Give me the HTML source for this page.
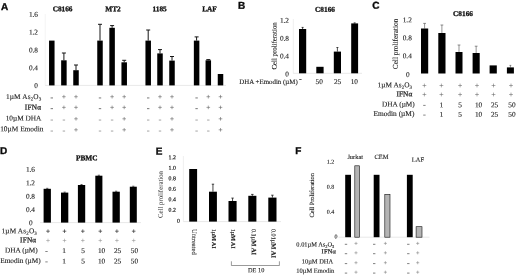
<!DOCTYPE html>
<html><head><meta charset="utf-8"><title>figure</title>
<style>
html,body{margin:0;padding:0;background:#fff;}
body{width:520px;height:275px;overflow:hidden;font-family:"Liberation Serif",serif;}
svg{display:block;text-rendering:geometricPrecision;}
</style></head><body>
<svg width="520" height="275" viewBox="0 0 520 275">
<rect width="520" height="275" fill="#fff"/>
<g style="filter:blur(0.3px)">
<text x="1.00" y="10.08" transform="rotate(0.03 1.00 10.08)" text-anchor="start" font-size="10" font-weight="bold" font-family='"Liberation Sans", sans-serif' fill="#0a0a0a" stroke="#0a0a0a" stroke-width="0.35" >A</text>
<text x="62.60" y="11.22" transform="rotate(0.03 62.60 11.22)" text-anchor="middle" font-size="7.3" font-weight="bold" font-family='"Liberation Serif", serif' fill="#111" stroke="#111" stroke-width="0.3" >C8166</text>
<text x="113.00" y="11.22" transform="rotate(0.03 113.00 11.22)" text-anchor="middle" font-size="7.3" font-weight="bold" font-family='"Liberation Serif", serif' fill="#111" stroke="#111" stroke-width="0.3" >MT2</text>
<text x="159.60" y="11.22" transform="rotate(0.03 159.60 11.22)" text-anchor="middle" font-size="7.3" font-weight="bold" font-family='"Liberation Serif", serif' fill="#111" stroke="#111" stroke-width="0.3" >1185</text>
<text x="209.50" y="11.22" transform="rotate(0.03 209.50 11.22)" text-anchor="middle" font-size="7.3" font-weight="bold" font-family='"Liberation Serif", serif' fill="#111" stroke="#111" stroke-width="0.3" >LAF</text>
<text x="38.00" y="87.92" transform="rotate(0.03 38.00 87.92)" text-anchor="end" font-size="7.3" font-weight="normal" font-family='"Liberation Serif", serif' fill="#1c1c1c" stroke="#1c1c1c" stroke-width="0.12" >0</text>
<text x="38.00" y="70.16" transform="rotate(0.03 38.00 70.16)" text-anchor="end" font-size="7.3" font-weight="normal" font-family='"Liberation Serif", serif' fill="#1c1c1c" stroke="#1c1c1c" stroke-width="0.12" >0.4</text>
<text x="38.00" y="52.40" transform="rotate(0.03 38.00 52.40)" text-anchor="end" font-size="7.3" font-weight="normal" font-family='"Liberation Serif", serif' fill="#1c1c1c" stroke="#1c1c1c" stroke-width="0.12" >0.8</text>
<text x="38.00" y="34.64" transform="rotate(0.03 38.00 34.64)" text-anchor="end" font-size="7.3" font-weight="normal" font-family='"Liberation Serif", serif' fill="#1c1c1c" stroke="#1c1c1c" stroke-width="0.12" >1.2</text>
<text x="38.00" y="16.88" transform="rotate(0.03 38.00 16.88)" text-anchor="end" font-size="7.3" font-weight="normal" font-family='"Liberation Serif", serif' fill="#1c1c1c" stroke="#1c1c1c" stroke-width="0.12" >1.6</text>
<line x1="45.20" y1="14.00" x2="45.20" y2="85.40" stroke="#ececec" stroke-width="0.6"/>
<line x1="45.20" y1="85.40" x2="226.00" y2="85.40" stroke="#d8d8d8" stroke-width="0.6"/>
<rect x="49.05" y="40.60" width="5.50" height="44.80" fill="#000"/>
<path d="M63.90 60.30V53.00M61.90 53.00H65.90" stroke="#161616" stroke-width="1.0" fill="none"/>
<rect x="61.15" y="60.30" width="5.50" height="25.10" fill="#000"/>
<path d="M76.00 70.20V65.00M74.00 65.00H78.00" stroke="#161616" stroke-width="1.0" fill="none"/>
<rect x="73.25" y="70.20" width="5.50" height="15.20" fill="#000"/>
<path d="M100.00 40.60V24.30M98.00 24.30H102.00" stroke="#161616" stroke-width="1.0" fill="none"/>
<rect x="97.25" y="40.60" width="5.50" height="44.80" fill="#000"/>
<path d="M112.10 27.80V25.60M110.10 25.60H114.10" stroke="#161616" stroke-width="1.0" fill="none"/>
<rect x="109.35" y="27.80" width="5.50" height="57.60" fill="#000"/>
<path d="M124.20 62.30V60.30M122.20 60.30H126.20" stroke="#161616" stroke-width="1.0" fill="none"/>
<rect x="121.45" y="62.30" width="5.50" height="23.10" fill="#000"/>
<path d="M148.20 40.60V30.00M146.20 30.00H150.20" stroke="#161616" stroke-width="1.0" fill="none"/>
<rect x="145.45" y="40.60" width="5.50" height="44.80" fill="#000"/>
<path d="M160.00 53.40V49.60M158.00 49.60H162.00" stroke="#161616" stroke-width="1.0" fill="none"/>
<rect x="157.25" y="53.40" width="5.50" height="32.00" fill="#000"/>
<path d="M172.00 60.60V56.50M170.00 56.50H174.00" stroke="#161616" stroke-width="1.0" fill="none"/>
<rect x="169.25" y="60.60" width="5.50" height="24.80" fill="#000"/>
<path d="M196.60 40.60V36.90M194.60 36.90H198.60" stroke="#161616" stroke-width="1.0" fill="none"/>
<rect x="193.85" y="40.60" width="5.50" height="44.80" fill="#000"/>
<path d="M208.30 60.30V59.60M206.30 59.60H210.30" stroke="#161616" stroke-width="1.0" fill="none"/>
<rect x="205.55" y="60.30" width="5.50" height="25.10" fill="#000"/>
<rect x="217.75" y="74.00" width="5.50" height="11.40" fill="#000"/>
<text x="41.40" y="99.12" transform="rotate(0.03 41.40 99.12)" text-anchor="end" font-size="7.3" font-weight="normal" font-family='"Liberation Serif", serif' fill="#1c1c1c" stroke="#1c1c1c" stroke-width="0.12" letter-spacing="0.15">1µM As<tspan font-size="5.0" dy="1.5">2</tspan><tspan dy="-1.5">O</tspan><tspan font-size="5.0" dy="1.5">3</tspan></text>
<text x="41.30" y="109.42" transform="rotate(0.03 41.30 109.42)" text-anchor="end" font-size="7.3" font-weight="normal" font-family='"Liberation Serif", serif' fill="#1c1c1c" stroke="#1c1c1c" stroke-width="0.25" letter-spacing="0.25">IFNα</text>
<text x="41.30" y="120.42" transform="rotate(0.03 41.30 120.42)" text-anchor="end" font-size="7.3" font-weight="normal" font-family='"Liberation Serif", serif' fill="#1c1c1c" stroke="#1c1c1c" stroke-width="0.12" >10µM DHA</text>
<text x="43.40" y="131.33" transform="rotate(0.03 43.40 131.33)" text-anchor="end" font-size="7.35" font-weight="normal" font-family='"Liberation Serif", serif' fill="#1c1c1c" stroke="#1c1c1c" stroke-width="0.12" >10µM Emodin</text>
<path d="M50.60 97.95H53.00" stroke="#555" stroke-width="0.8" fill="none"/>
<path d="M62.10 96.70H65.70M63.90 94.90V98.50" stroke="#666" stroke-width="0.6" fill="none"/>
<path d="M74.20 96.70H77.80M76.00 94.90V98.50" stroke="#666" stroke-width="0.6" fill="none"/>
<path d="M98.80 97.95H101.20" stroke="#555" stroke-width="0.8" fill="none"/>
<path d="M110.30 96.70H113.90M112.10 94.90V98.50" stroke="#666" stroke-width="0.6" fill="none"/>
<path d="M122.40 96.70H126.00M124.20 94.90V98.50" stroke="#666" stroke-width="0.6" fill="none"/>
<path d="M147.00 97.95H149.40" stroke="#555" stroke-width="0.8" fill="none"/>
<path d="M158.20 96.70H161.80M160.00 94.90V98.50" stroke="#666" stroke-width="0.6" fill="none"/>
<path d="M170.20 96.70H173.80M172.00 94.90V98.50" stroke="#666" stroke-width="0.6" fill="none"/>
<path d="M195.40 97.95H197.80" stroke="#555" stroke-width="0.8" fill="none"/>
<path d="M206.50 96.70H210.10M208.30 94.90V98.50" stroke="#666" stroke-width="0.6" fill="none"/>
<path d="M218.70 96.70H222.30M220.50 94.90V98.50" stroke="#666" stroke-width="0.6" fill="none"/>
<path d="M50.60 108.65H53.00" stroke="#555" stroke-width="0.8" fill="none"/>
<path d="M62.10 107.40H65.70M63.90 105.60V109.20" stroke="#666" stroke-width="0.6" fill="none"/>
<path d="M74.20 107.40H77.80M76.00 105.60V109.20" stroke="#666" stroke-width="0.6" fill="none"/>
<path d="M98.80 108.65H101.20" stroke="#555" stroke-width="0.8" fill="none"/>
<path d="M110.30 107.40H113.90M112.10 105.60V109.20" stroke="#666" stroke-width="0.6" fill="none"/>
<path d="M122.40 107.40H126.00M124.20 105.60V109.20" stroke="#666" stroke-width="0.6" fill="none"/>
<path d="M147.00 108.65H149.40" stroke="#555" stroke-width="0.8" fill="none"/>
<path d="M158.20 107.40H161.80M160.00 105.60V109.20" stroke="#666" stroke-width="0.6" fill="none"/>
<path d="M170.20 107.40H173.80M172.00 105.60V109.20" stroke="#666" stroke-width="0.6" fill="none"/>
<path d="M195.40 108.65H197.80" stroke="#555" stroke-width="0.8" fill="none"/>
<path d="M206.50 107.40H210.10M208.30 105.60V109.20" stroke="#666" stroke-width="0.6" fill="none"/>
<path d="M218.70 107.40H222.30M220.50 105.60V109.20" stroke="#666" stroke-width="0.6" fill="none"/>
<path d="M50.60 120.05H53.00" stroke="#8c8c8c" stroke-width="0.8" fill="none"/>
<path d="M62.70 120.05H65.10" stroke="#8c8c8c" stroke-width="0.8" fill="none"/>
<path d="M74.20 118.80H77.80M76.00 117.00V120.60" stroke="#666" stroke-width="0.6" fill="none"/>
<path d="M98.80 120.05H101.20" stroke="#8c8c8c" stroke-width="0.8" fill="none"/>
<path d="M110.90 120.05H113.30" stroke="#8c8c8c" stroke-width="0.8" fill="none"/>
<path d="M122.40 118.80H126.00M124.20 117.00V120.60" stroke="#666" stroke-width="0.6" fill="none"/>
<path d="M147.00 120.05H149.40" stroke="#8c8c8c" stroke-width="0.8" fill="none"/>
<path d="M158.80 120.05H161.20" stroke="#8c8c8c" stroke-width="0.8" fill="none"/>
<path d="M170.20 118.80H173.80M172.00 117.00V120.60" stroke="#666" stroke-width="0.6" fill="none"/>
<path d="M195.40 120.05H197.80" stroke="#8c8c8c" stroke-width="0.8" fill="none"/>
<path d="M207.10 120.05H209.50" stroke="#8c8c8c" stroke-width="0.8" fill="none"/>
<path d="M218.70 118.80H222.30M220.50 117.00V120.60" stroke="#666" stroke-width="0.6" fill="none"/>
<path d="M50.60 131.05H53.00" stroke="#8c8c8c" stroke-width="0.8" fill="none"/>
<path d="M62.70 131.05H65.10" stroke="#8c8c8c" stroke-width="0.8" fill="none"/>
<path d="M74.20 129.80H77.80M76.00 128.00V131.60" stroke="#666" stroke-width="0.6" fill="none"/>
<path d="M98.80 131.05H101.20" stroke="#8c8c8c" stroke-width="0.8" fill="none"/>
<path d="M110.90 131.05H113.30" stroke="#8c8c8c" stroke-width="0.8" fill="none"/>
<path d="M122.40 129.80H126.00M124.20 128.00V131.60" stroke="#666" stroke-width="0.6" fill="none"/>
<path d="M147.00 131.05H149.40" stroke="#8c8c8c" stroke-width="0.8" fill="none"/>
<path d="M158.80 131.05H161.20" stroke="#8c8c8c" stroke-width="0.8" fill="none"/>
<path d="M170.20 129.80H173.80M172.00 128.00V131.60" stroke="#666" stroke-width="0.6" fill="none"/>
<path d="M195.40 131.05H197.80" stroke="#8c8c8c" stroke-width="0.8" fill="none"/>
<path d="M207.10 131.05H209.50" stroke="#8c8c8c" stroke-width="0.8" fill="none"/>
<path d="M218.70 129.80H222.30M220.50 128.00V131.60" stroke="#666" stroke-width="0.6" fill="none"/>
<text x="238.00" y="8.68" transform="rotate(0.03 238.00 8.68)" text-anchor="start" font-size="10" font-weight="bold" font-family='"Liberation Sans", sans-serif' fill="#0a0a0a" stroke="#0a0a0a" stroke-width="0.35" >B</text>
<text x="325.00" y="11.72" transform="rotate(0.03 325.00 11.72)" text-anchor="middle" font-size="7.3" font-weight="bold" font-family='"Liberation Serif", serif' fill="#111" stroke="#111" stroke-width="0.3" >C8166</text>
<text x="288.90" y="76.52" transform="rotate(0.03 288.90 76.52)" text-anchor="end" font-size="7.3" font-weight="normal" font-family='"Liberation Serif", serif' fill="#1c1c1c" stroke="#1c1c1c" stroke-width="0.12" >0</text>
<text x="289.00" y="58.60" transform="rotate(0.03 289.00 58.60)" text-anchor="end" font-size="7.3" font-weight="normal" font-family='"Liberation Serif", serif' fill="#1c1c1c" stroke="#1c1c1c" stroke-width="0.12" >0.4</text>
<text x="289.00" y="40.68" transform="rotate(0.03 289.00 40.68)" text-anchor="end" font-size="7.3" font-weight="normal" font-family='"Liberation Serif", serif' fill="#1c1c1c" stroke="#1c1c1c" stroke-width="0.12" >0.8</text>
<text x="289.00" y="22.76" transform="rotate(0.03 289.00 22.76)" text-anchor="end" font-size="7.3" font-weight="normal" font-family='"Liberation Serif", serif' fill="#1c1c1c" stroke="#1c1c1c" stroke-width="0.12" >1.2</text>
<line x1="293.30" y1="19.00" x2="293.30" y2="73.30" stroke="#e4e4e4" stroke-width="0.6"/>
<line x1="293.30" y1="73.30" x2="362.00" y2="73.30" stroke="#d8d8d8" stroke-width="0.6"/>
<text transform="translate(274.20,45.90) rotate(-89.97)" text-anchor="middle" font-size="6.85" font-weight="normal" font-family='"Liberation Serif", serif' fill="#1c1c1c" stroke="#1c1c1c" stroke-width="0.12" dy="2.27">Cell proliferation</text>
<path d="M302.60 29.00V27.40M301.60 27.40H303.60" stroke="#161616" stroke-width="0.75" fill="none"/>
<rect x="299.00" y="29.00" width="7.20" height="44.30" fill="#000"/>
<rect x="316.30" y="66.80" width="7.30" height="6.50" fill="#000"/>
<path d="M337.40 51.60V47.50M336.40 47.50H338.40" stroke="#161616" stroke-width="0.75" fill="none"/>
<rect x="333.80" y="51.60" width="7.20" height="21.70" fill="#000"/>
<path d="M354.65 23.40V22.90M353.65 22.90H355.65" stroke="#161616" stroke-width="0.75" fill="none"/>
<rect x="351.20" y="23.40" width="6.90" height="49.90" fill="#000"/>
<text x="297.70" y="84.08" transform="rotate(0.03 297.70 84.08)" text-anchor="end" font-size="6.9" font-weight="normal" font-family='"Liberation Serif", serif' fill="#1c1c1c" stroke="#1c1c1c" stroke-width="0.12" >DHA +Emodin (µM)</text>
<path d="M299.20 79.50H301.60" stroke="#333" stroke-width="0.8" fill="none"/>
<text x="319.20" y="84.02" transform="rotate(0.03 319.20 84.02)" text-anchor="middle" font-size="7.3" font-weight="normal" font-family='"Liberation Serif", serif' fill="#1c1c1c" stroke="#1c1c1c" stroke-width="0.12" >50</text>
<text x="337.60" y="84.02" transform="rotate(0.03 337.60 84.02)" text-anchor="middle" font-size="7.3" font-weight="normal" font-family='"Liberation Serif", serif' fill="#1c1c1c" stroke="#1c1c1c" stroke-width="0.12" >25</text>
<text x="354.30" y="84.02" transform="rotate(0.03 354.30 84.02)" text-anchor="middle" font-size="7.3" font-weight="normal" font-family='"Liberation Serif", serif' fill="#1c1c1c" stroke="#1c1c1c" stroke-width="0.12" >10</text>
<text x="372.30" y="8.68" transform="rotate(0.03 372.30 8.68)" text-anchor="start" font-size="10" font-weight="bold" font-family='"Liberation Sans", sans-serif' fill="#0a0a0a" stroke="#0a0a0a" stroke-width="0.35" >C</text>
<text x="463.00" y="16.12" transform="rotate(0.03 463.00 16.12)" text-anchor="middle" font-size="7.3" font-weight="bold" font-family='"Liberation Serif", serif' fill="#111" stroke="#111" stroke-width="0.3" >C8166</text>
<text x="411.80" y="58.26" transform="rotate(0.03 411.80 58.26)" text-anchor="end" font-size="7.3" font-weight="normal" font-family='"Liberation Serif", serif' fill="#1c1c1c" stroke="#1c1c1c" stroke-width="0.12" >0.4</text>
<text x="411.80" y="40.30" transform="rotate(0.03 411.80 40.30)" text-anchor="end" font-size="7.3" font-weight="normal" font-family='"Liberation Serif", serif' fill="#1c1c1c" stroke="#1c1c1c" stroke-width="0.12" >0.8</text>
<text x="411.80" y="22.34" transform="rotate(0.03 411.80 22.34)" text-anchor="end" font-size="7.3" font-weight="normal" font-family='"Liberation Serif", serif' fill="#1c1c1c" stroke="#1c1c1c" stroke-width="0.12" >1.2</text>
<text x="409.70" y="77.12" transform="rotate(0.03 409.70 77.12)" text-anchor="end" font-size="7.3" font-weight="normal" font-family='"Liberation Serif", serif' fill="#1c1c1c" stroke="#1c1c1c" stroke-width="0.12" >0</text>
<text transform="translate(395.30,44.00) rotate(-89.97)" text-anchor="middle" font-size="7.3" font-weight="normal" font-family='"Liberation Serif", serif' fill="#1c1c1c" stroke="#1c1c1c" stroke-width="0.12" dy="2.42">Cell proliferation</text>
<path d="M424.60 28.50V23.40M423.20 23.40H426.00" stroke="#4a4a4a" stroke-width="0.6" fill="none"/>
<rect x="421.00" y="28.50" width="7.20" height="45.00" fill="#000"/>
<path d="M441.90 33.00V25.00M440.50 25.00H443.30" stroke="#4a4a4a" stroke-width="0.6" fill="none"/>
<rect x="438.30" y="33.00" width="7.20" height="40.50" fill="#000"/>
<path d="M459.00 52.00V45.00M457.60 45.00H460.40" stroke="#4a4a4a" stroke-width="0.6" fill="none"/>
<rect x="455.50" y="52.00" width="7.00" height="21.50" fill="#000"/>
<path d="M476.15 53.00V46.20M474.75 46.20H477.55" stroke="#4a4a4a" stroke-width="0.6" fill="none"/>
<rect x="472.60" y="53.00" width="7.10" height="20.50" fill="#000"/>
<rect x="489.60" y="65.40" width="7.20" height="8.10" fill="#000"/>
<path d="M510.40 67.40V65.40M509.50 65.40H511.30" stroke="#4a4a4a" stroke-width="0.6" fill="none"/>
<rect x="506.90" y="67.40" width="7.00" height="6.10" fill="#000"/>
<text x="412.20" y="87.32" transform="rotate(0.03 412.20 87.32)" text-anchor="end" font-size="7.3" font-weight="normal" font-family='"Liberation Serif", serif' fill="#1c1c1c" stroke="#1c1c1c" stroke-width="0.12" letter-spacing="0.05">1µM As<tspan font-size="5.0" dy="1.5">2</tspan><tspan dy="-1.5">O</tspan><tspan font-size="5.0" dy="1.5">3</tspan></text>
<text x="412.40" y="96.22" transform="rotate(0.03 412.40 96.22)" text-anchor="end" font-size="7.3" font-weight="normal" font-family='"Liberation Serif", serif' fill="#1c1c1c" stroke="#1c1c1c" stroke-width="0.25" letter-spacing="0.1">IFNα</text>
<text x="414.80" y="106.42" transform="rotate(0.03 414.80 106.42)" text-anchor="end" font-size="7.3" font-weight="normal" font-family='"Liberation Serif", serif' fill="#1c1c1c" stroke="#1c1c1c" stroke-width="0.12" >DHA (µM)</text>
<text x="414.40" y="115.95" transform="rotate(0.03 414.40 115.95)" text-anchor="end" font-size="7.4" font-weight="normal" font-family='"Liberation Serif", serif' fill="#1c1c1c" stroke="#1c1c1c" stroke-width="0.12" >Emodin (µM)</text>
<path d="M422.50 85.50H426.30M424.40 83.60V87.40" stroke="#666" stroke-width="0.55" fill="none"/>
<path d="M422.50 94.50H426.30M424.40 92.60V96.40" stroke="#666" stroke-width="0.55" fill="none"/>
<path d="M423.20 105.40H425.60" stroke="#666" stroke-width="0.8" fill="none"/>
<path d="M423.20 115.10H425.60" stroke="#666" stroke-width="0.8" fill="none"/>
<path d="M439.50 85.50H443.30M441.40 83.60V87.40" stroke="#666" stroke-width="0.55" fill="none"/>
<path d="M439.50 94.50H443.30M441.40 92.60V96.40" stroke="#666" stroke-width="0.55" fill="none"/>
<text x="441.40" y="107.32" transform="rotate(0.03 441.40 107.32)" text-anchor="middle" font-size="7.3" font-weight="normal" font-family='"Liberation Serif", serif' fill="#1c1c1c" stroke="#1c1c1c" stroke-width="0.12" >1</text>
<text x="441.40" y="116.82" transform="rotate(0.03 441.40 116.82)" text-anchor="middle" font-size="7.3" font-weight="normal" font-family='"Liberation Serif", serif' fill="#1c1c1c" stroke="#1c1c1c" stroke-width="0.12" >1</text>
<path d="M458.20 85.50H462.00M460.10 83.60V87.40" stroke="#666" stroke-width="0.55" fill="none"/>
<path d="M458.20 94.50H462.00M460.10 92.60V96.40" stroke="#666" stroke-width="0.55" fill="none"/>
<text x="460.10" y="107.32" transform="rotate(0.03 460.10 107.32)" text-anchor="middle" font-size="7.3" font-weight="normal" font-family='"Liberation Serif", serif' fill="#1c1c1c" stroke="#1c1c1c" stroke-width="0.12" >5</text>
<text x="460.10" y="116.82" transform="rotate(0.03 460.10 116.82)" text-anchor="middle" font-size="7.3" font-weight="normal" font-family='"Liberation Serif", serif' fill="#1c1c1c" stroke="#1c1c1c" stroke-width="0.12" >5</text>
<path d="M475.10 85.50H478.90M477.00 83.60V87.40" stroke="#666" stroke-width="0.55" fill="none"/>
<path d="M475.10 94.50H478.90M477.00 92.60V96.40" stroke="#666" stroke-width="0.55" fill="none"/>
<text x="478.60" y="107.32" transform="rotate(0.03 478.60 107.32)" text-anchor="middle" font-size="7.3" font-weight="normal" font-family='"Liberation Serif", serif' fill="#1c1c1c" stroke="#1c1c1c" stroke-width="0.12" >10</text>
<text x="478.60" y="116.82" transform="rotate(0.03 478.60 116.82)" text-anchor="middle" font-size="7.3" font-weight="normal" font-family='"Liberation Serif", serif' fill="#1c1c1c" stroke="#1c1c1c" stroke-width="0.12" >10</text>
<path d="M491.60 85.50H495.40M493.50 83.60V87.40" stroke="#666" stroke-width="0.55" fill="none"/>
<path d="M491.60 94.50H495.40M493.50 92.60V96.40" stroke="#666" stroke-width="0.55" fill="none"/>
<text x="494.60" y="107.32" transform="rotate(0.03 494.60 107.32)" text-anchor="middle" font-size="7.3" font-weight="normal" font-family='"Liberation Serif", serif' fill="#1c1c1c" stroke="#1c1c1c" stroke-width="0.12" >25</text>
<text x="494.60" y="116.82" transform="rotate(0.03 494.60 116.82)" text-anchor="middle" font-size="7.3" font-weight="normal" font-family='"Liberation Serif", serif' fill="#1c1c1c" stroke="#1c1c1c" stroke-width="0.12" >25</text>
<path d="M509.10 85.50H512.90M511.00 83.60V87.40" stroke="#666" stroke-width="0.55" fill="none"/>
<path d="M509.10 94.50H512.90M511.00 92.60V96.40" stroke="#666" stroke-width="0.55" fill="none"/>
<text x="512.00" y="107.32" transform="rotate(0.03 512.00 107.32)" text-anchor="middle" font-size="7.3" font-weight="normal" font-family='"Liberation Serif", serif' fill="#1c1c1c" stroke="#1c1c1c" stroke-width="0.12" >50</text>
<text x="512.00" y="116.82" transform="rotate(0.03 512.00 116.82)" text-anchor="middle" font-size="7.3" font-weight="normal" font-family='"Liberation Serif", serif' fill="#1c1c1c" stroke="#1c1c1c" stroke-width="0.12" >50</text>
<text x="0.00" y="154.08" transform="rotate(0.03 0.00 154.08)" text-anchor="start" font-size="10" font-weight="bold" font-family='"Liberation Sans", sans-serif' fill="#0a0a0a" stroke="#0a0a0a" stroke-width="0.35" >D</text>
<text x="86.80" y="160.22" transform="rotate(0.03 86.80 160.22)" text-anchor="middle" font-size="7.3" font-weight="bold" font-family='"Liberation Serif", serif' fill="#111" stroke="#111" stroke-width="0.3" >PBMC</text>
<text x="35.00" y="212.10" transform="rotate(0.03 35.00 212.10)" text-anchor="end" font-size="7.3" font-weight="normal" font-family='"Liberation Serif", serif' fill="#1c1c1c" stroke="#1c1c1c" stroke-width="0.12" >0.4</text>
<text x="35.00" y="198.68" transform="rotate(0.03 35.00 198.68)" text-anchor="end" font-size="7.3" font-weight="normal" font-family='"Liberation Serif", serif' fill="#1c1c1c" stroke="#1c1c1c" stroke-width="0.12" >0.8</text>
<text x="35.00" y="185.26" transform="rotate(0.03 35.00 185.26)" text-anchor="end" font-size="7.3" font-weight="normal" font-family='"Liberation Serif", serif' fill="#1c1c1c" stroke="#1c1c1c" stroke-width="0.12" >1.2</text>
<text x="35.00" y="171.84" transform="rotate(0.03 35.00 171.84)" text-anchor="end" font-size="7.3" font-weight="normal" font-family='"Liberation Serif", serif' fill="#1c1c1c" stroke="#1c1c1c" stroke-width="0.12" >1.6</text>
<text x="32.60" y="225.22" transform="rotate(0.03 32.60 225.22)" text-anchor="end" font-size="7.3" font-weight="normal" font-family='"Liberation Serif", serif' fill="#1c1c1c" stroke="#1c1c1c" stroke-width="0.12" >0</text>
<line x1="40.00" y1="222.60" x2="141.00" y2="222.60" stroke="#d8d8d8" stroke-width="0.6"/>
<path d="M47.25 188.80V188.30M46.15 188.30H48.35" stroke="#161616" stroke-width="0.6" fill="none"/>
<rect x="43.60" y="188.80" width="7.30" height="33.80" fill="#000"/>
<path d="M64.65 192.60V192.10M63.55 192.10H65.75" stroke="#161616" stroke-width="0.6" fill="none"/>
<rect x="61.00" y="192.60" width="7.30" height="30.00" fill="#000"/>
<path d="M81.55 185.00V184.50M80.45 184.50H82.65" stroke="#161616" stroke-width="0.6" fill="none"/>
<rect x="77.90" y="185.00" width="7.30" height="37.60" fill="#000"/>
<path d="M98.85 175.70V175.20M97.75 175.20H99.95" stroke="#161616" stroke-width="0.6" fill="none"/>
<rect x="95.30" y="175.70" width="7.10" height="46.90" fill="#000"/>
<path d="M116.15 191.70V191.20M115.05 191.20H117.25" stroke="#161616" stroke-width="0.6" fill="none"/>
<rect x="112.50" y="191.70" width="7.30" height="30.90" fill="#000"/>
<path d="M133.30 186.70V186.20M132.20 186.20H134.40" stroke="#161616" stroke-width="0.6" fill="none"/>
<rect x="129.80" y="186.70" width="7.00" height="35.90" fill="#000"/>
<text x="37.00" y="233.32" transform="rotate(0.03 37.00 233.32)" text-anchor="end" font-size="7.3" font-weight="normal" font-family='"Liberation Serif", serif' fill="#1c1c1c" stroke="#1c1c1c" stroke-width="0.12" letter-spacing="0.15">1µM As<tspan font-size="5.0" dy="1.5">2</tspan><tspan dy="-1.5">O</tspan><tspan font-size="5.0" dy="1.5">3</tspan></text>
<text x="36.30" y="242.22" transform="rotate(0.03 36.30 242.22)" text-anchor="end" font-size="7.3" font-weight="normal" font-family='"Liberation Serif", serif' fill="#1c1c1c" stroke="#1c1c1c" stroke-width="0.25" letter-spacing="0.15">IFNα</text>
<text x="37.80" y="252.42" transform="rotate(0.03 37.80 252.42)" text-anchor="end" font-size="7.3" font-weight="normal" font-family='"Liberation Serif", serif' fill="#1c1c1c" stroke="#1c1c1c" stroke-width="0.12" >DHA (µM)</text>
<text x="40.70" y="262.92" transform="rotate(0.03 40.70 262.92)" text-anchor="end" font-size="7.3" font-weight="normal" font-family='"Liberation Serif", serif' fill="#1c1c1c" stroke="#1c1c1c" stroke-width="0.12" >Emodin (µM)</text>
<path d="M46.20 231.20H49.80M48.00 229.40V233.00" stroke="#333" stroke-width="0.7" fill="none"/>
<path d="M46.20 240.50H49.80M48.00 238.70V242.30" stroke="#888" stroke-width="0.5" fill="none"/>
<path d="M45.30 251.50H47.70" stroke="#666" stroke-width="0.8" fill="none"/>
<path d="M45.30 261.90H47.70" stroke="#666" stroke-width="0.8" fill="none"/>
<path d="M62.70 231.20H66.30M64.50 229.40V233.00" stroke="#333" stroke-width="0.7" fill="none"/>
<path d="M62.70 240.50H66.30M64.50 238.70V242.30" stroke="#888" stroke-width="0.5" fill="none"/>
<text x="64.00" y="253.02" transform="rotate(0.03 64.00 253.02)" text-anchor="middle" font-size="7.3" font-weight="normal" font-family='"Liberation Serif", serif' fill="#1c1c1c" stroke="#1c1c1c" stroke-width="0.12" >1</text>
<text x="64.00" y="263.42" transform="rotate(0.03 64.00 263.42)" text-anchor="middle" font-size="7.3" font-weight="normal" font-family='"Liberation Serif", serif' fill="#1c1c1c" stroke="#1c1c1c" stroke-width="0.12" >1</text>
<path d="M81.00 231.20H84.60M82.80 229.40V233.00" stroke="#333" stroke-width="0.7" fill="none"/>
<path d="M81.00 240.50H84.60M82.80 238.70V242.30" stroke="#888" stroke-width="0.5" fill="none"/>
<text x="83.20" y="253.02" transform="rotate(0.03 83.20 253.02)" text-anchor="middle" font-size="7.3" font-weight="normal" font-family='"Liberation Serif", serif' fill="#1c1c1c" stroke="#1c1c1c" stroke-width="0.12" >5</text>
<text x="83.20" y="263.42" transform="rotate(0.03 83.20 263.42)" text-anchor="middle" font-size="7.3" font-weight="normal" font-family='"Liberation Serif", serif' fill="#1c1c1c" stroke="#1c1c1c" stroke-width="0.12" >5</text>
<path d="M98.50 231.20H102.10M100.30 229.40V233.00" stroke="#333" stroke-width="0.7" fill="none"/>
<path d="M98.50 240.50H102.10M100.30 238.70V242.30" stroke="#888" stroke-width="0.5" fill="none"/>
<text x="101.60" y="253.02" transform="rotate(0.03 101.60 253.02)" text-anchor="middle" font-size="7.3" font-weight="normal" font-family='"Liberation Serif", serif' fill="#1c1c1c" stroke="#1c1c1c" stroke-width="0.12" >10</text>
<text x="101.60" y="263.42" transform="rotate(0.03 101.60 263.42)" text-anchor="middle" font-size="7.3" font-weight="normal" font-family='"Liberation Serif", serif' fill="#1c1c1c" stroke="#1c1c1c" stroke-width="0.12" >10</text>
<path d="M115.10 231.20H118.70M116.90 229.40V233.00" stroke="#333" stroke-width="0.7" fill="none"/>
<path d="M115.10 240.50H118.70M116.90 238.70V242.30" stroke="#888" stroke-width="0.5" fill="none"/>
<text x="117.60" y="253.02" transform="rotate(0.03 117.60 253.02)" text-anchor="middle" font-size="7.3" font-weight="normal" font-family='"Liberation Serif", serif' fill="#1c1c1c" stroke="#1c1c1c" stroke-width="0.12" >25</text>
<text x="117.60" y="263.42" transform="rotate(0.03 117.60 263.42)" text-anchor="middle" font-size="7.3" font-weight="normal" font-family='"Liberation Serif", serif' fill="#1c1c1c" stroke="#1c1c1c" stroke-width="0.12" >25</text>
<path d="M131.90 231.20H135.50M133.70 229.40V233.00" stroke="#333" stroke-width="0.7" fill="none"/>
<path d="M131.90 240.50H135.50M133.70 238.70V242.30" stroke="#888" stroke-width="0.5" fill="none"/>
<text x="134.50" y="253.02" transform="rotate(0.03 134.50 253.02)" text-anchor="middle" font-size="7.3" font-weight="normal" font-family='"Liberation Serif", serif' fill="#1c1c1c" stroke="#1c1c1c" stroke-width="0.12" >50</text>
<text x="134.50" y="263.42" transform="rotate(0.03 134.50 263.42)" text-anchor="middle" font-size="7.3" font-weight="normal" font-family='"Liberation Serif", serif' fill="#1c1c1c" stroke="#1c1c1c" stroke-width="0.12" >50</text>
<text x="155.80" y="154.58" transform="rotate(0.03 155.80 154.58)" text-anchor="start" font-size="10" font-weight="bold" font-family='"Liberation Sans", sans-serif' fill="#0a0a0a" stroke="#0a0a0a" stroke-width="0.35" >E</text>
<text x="175.80" y="211.74" transform="rotate(0.03 175.80 211.74)" text-anchor="end" font-size="5.8" font-weight="normal" font-family='"Liberation Serif", serif' fill="#1c1c1c" stroke="#1c1c1c" stroke-width="0.2" >0.2</text>
<text x="175.80" y="201.26" transform="rotate(0.03 175.80 201.26)" text-anchor="end" font-size="5.8" font-weight="normal" font-family='"Liberation Serif", serif' fill="#1c1c1c" stroke="#1c1c1c" stroke-width="0.2" >0.4</text>
<text x="175.80" y="190.78" transform="rotate(0.03 175.80 190.78)" text-anchor="end" font-size="5.8" font-weight="normal" font-family='"Liberation Serif", serif' fill="#1c1c1c" stroke="#1c1c1c" stroke-width="0.2" >0.6</text>
<text x="175.80" y="180.30" transform="rotate(0.03 175.80 180.30)" text-anchor="end" font-size="5.8" font-weight="normal" font-family='"Liberation Serif", serif' fill="#1c1c1c" stroke="#1c1c1c" stroke-width="0.2" >0.8</text>
<text x="175.80" y="169.82" transform="rotate(0.03 175.80 169.82)" text-anchor="end" font-size="5.8" font-weight="normal" font-family='"Liberation Serif", serif' fill="#1c1c1c" stroke="#1c1c1c" stroke-width="0.2" >1.0</text>
<text x="175.80" y="159.34" transform="rotate(0.03 175.80 159.34)" text-anchor="end" font-size="5.8" font-weight="normal" font-family='"Liberation Serif", serif' fill="#1c1c1c" stroke="#1c1c1c" stroke-width="0.2" >1.2</text>
<text x="180.00" y="222.72" transform="rotate(0.03 180.00 222.72)" text-anchor="end" font-size="5.8" font-weight="normal" font-family='"Liberation Serif", serif' fill="#1c1c1c" stroke="#1c1c1c" stroke-width="0.2" >0</text>
<line x1="183.40" y1="156.00" x2="183.40" y2="221.60" stroke="#e4e4e4" stroke-width="0.6"/>
<line x1="183.40" y1="221.60" x2="281.00" y2="221.60" stroke="#d8d8d8" stroke-width="0.6"/>
<text transform="translate(160.60,194.50) rotate(-89.97)" text-anchor="middle" font-size="6.8" font-weight="normal" font-family='"Liberation Serif", serif' fill="#2a2a2a" stroke="#2a2a2a" stroke-width="0.0" dy="2.25">Cell proliferation</text>
<rect x="189.20" y="169.00" width="7.90" height="52.60" fill="#000"/>
<path d="M212.95 191.70V184.20M211.75 184.20H214.15" stroke="#161616" stroke-width="0.8" fill="none"/>
<rect x="209.00" y="191.70" width="7.90" height="29.90" fill="#000"/>
<path d="M232.55 201.00V198.10M231.35 198.10H233.75" stroke="#161616" stroke-width="0.8" fill="none"/>
<rect x="228.50" y="201.00" width="8.10" height="20.60" fill="#000"/>
<path d="M252.35 195.80V194.40M251.15 194.40H253.55" stroke="#161616" stroke-width="0.8" fill="none"/>
<rect x="248.30" y="195.80" width="8.10" height="25.80" fill="#000"/>
<path d="M272.40 197.60V195.20M271.20 195.20H273.60" stroke="#161616" stroke-width="0.8" fill="none"/>
<rect x="268.30" y="197.60" width="8.20" height="24.00" fill="#000"/>
<text transform="translate(194.30,228.9) rotate(90.03)" text-anchor="start" font-size="6.55" font-family='"Liberation Serif", serif' fill="#333" stroke="#333" stroke-width="0.12" dy="2.17">Untreated</text>
<text transform="translate(214.00,228.9) rotate(90.03)" text-anchor="start" font-size="5.9" font-family='"Liberation Serif", serif' fill="#111" stroke="#111" stroke-width="0.12" dy="1.95">1µ<tspan font-weight="bold">M AI</tspan></text>
<text transform="translate(233.30,228.9) rotate(90.03)" text-anchor="start" font-size="5.9" font-family='"Liberation Serif", serif' fill="#111" stroke="#111" stroke-width="0.12" dy="1.95">1µ<tspan font-weight="bold">M AI</tspan></text>
<text transform="translate(254.00,228.9) rotate(90.03)" text-anchor="start" font-size="6.6" font-family='"Liberation Serif", serif' fill="#111" stroke="#111" stroke-width="0.12" dy="2.18"><tspan font-size="6.2">0.1µ</tspan><tspan font-weight="bold">M AI</tspan></text>
<text transform="translate(273.60,228.9) rotate(90.03)" text-anchor="start" font-size="6.6" font-family='"Liberation Serif", serif' fill="#111" stroke="#111" stroke-width="0.12" dy="2.18"><tspan font-size="6.2">0.01µ</tspan><tspan font-weight="bold">M AI</tspan></text>
<path d="M231.4 261.3V265.5H279.4V261.3" stroke="#555" stroke-width="0.6" fill="none"/>
<text x="256.20" y="272.19" transform="rotate(0.03 256.20 272.19)" text-anchor="middle" font-size="6.3" font-weight="normal" font-family='"Liberation Serif", serif' fill="#1c1c1c" stroke="#1c1c1c" stroke-width="0.12" >DE 10</text>
<text x="295.20" y="154.08" transform="rotate(0.03 295.20 154.08)" text-anchor="start" font-size="10" font-weight="bold" font-family='"Liberation Sans", sans-serif' fill="#0a0a0a" stroke="#0a0a0a" stroke-width="0.35" >F</text>
<text x="355.20" y="158.92" transform="rotate(0.03 355.20 158.92)" text-anchor="middle" font-size="6.4" font-weight="normal" font-family='"Liberation Serif", serif' fill="#1c1c1c" stroke="#1c1c1c" stroke-width="0.12" >Jurkat</text>
<text x="381.50" y="158.92" transform="rotate(0.03 381.50 158.92)" text-anchor="middle" font-size="6.4" font-weight="normal" font-family='"Liberation Serif", serif' fill="#1c1c1c" stroke="#1c1c1c" stroke-width="0.12" >CEM</text>
<text x="417.90" y="161.82" transform="rotate(0.03 417.90 161.82)" text-anchor="middle" font-size="6.4" font-weight="normal" font-family='"Liberation Serif", serif' fill="#1c1c1c" stroke="#1c1c1c" stroke-width="0.12" >LAF</text>
<text x="334.20" y="213.89" transform="rotate(0.03 334.20 213.89)" text-anchor="end" font-size="6.0" font-weight="normal" font-family='"Liberation Serif", serif' fill="#1c1c1c" stroke="#1c1c1c" stroke-width="0.12" >0.4</text>
<text x="334.20" y="188.89" transform="rotate(0.03 334.20 188.89)" text-anchor="end" font-size="6.0" font-weight="normal" font-family='"Liberation Serif", serif' fill="#1c1c1c" stroke="#1c1c1c" stroke-width="0.12" >0.8</text>
<text x="334.20" y="163.89" transform="rotate(0.03 334.20 163.89)" text-anchor="end" font-size="6.0" font-weight="normal" font-family='"Liberation Serif", serif' fill="#1c1c1c" stroke="#1c1c1c" stroke-width="0.12" >1.2</text>
<text x="337.40" y="238.59" transform="rotate(0.03 337.40 238.59)" text-anchor="end" font-size="6.0" font-weight="normal" font-family='"Liberation Serif", serif' fill="#1c1c1c" stroke="#1c1c1c" stroke-width="0.12" >0</text>
<line x1="338.50" y1="237.20" x2="429.50" y2="237.20" stroke="#d8d8d8" stroke-width="0.6"/>
<text transform="translate(311.90,195.30) rotate(-89.97)" text-anchor="middle" font-size="6.4" font-weight="normal" font-family='"Liberation Serif", serif' fill="#1c1c1c" stroke="#1c1c1c" stroke-width="0.12" dy="2.12">Cell Proliferation</text>
<rect x="345.20" y="174.80" width="5.80" height="62.40" fill="#000"/>
<rect x="354.80" y="165.80" width="4.70" height="71.40" fill="#b4b4b4" stroke="#111" stroke-width="0.6"/>
<rect x="373.70" y="174.80" width="5.80" height="62.40" fill="#000"/>
<rect x="384.80" y="194.30" width="5.20" height="42.90" fill="#b4b4b4" stroke="#111" stroke-width="0.6"/>
<rect x="406.90" y="174.80" width="5.80" height="62.40" fill="#000"/>
<rect x="416.10" y="226.70" width="5.90" height="10.50" fill="#b4b4b4" stroke="#111" stroke-width="0.6"/>
<text x="334.30" y="246.62" transform="rotate(0.03 334.30 246.62)" text-anchor="end" font-size="6.4" font-weight="normal" font-family='"Liberation Serif", serif' fill="#1c1c1c" stroke="#1c1c1c" stroke-width="0.12" >0.01µM As<tspan font-size="4.4" dy="1.3">2</tspan><tspan dy="-1.3">O</tspan><tspan font-size="4.4" dy="1.3">3</tspan></text>
<text x="336.20" y="253.52" transform="rotate(0.03 336.20 253.52)" text-anchor="end" font-size="6.4" font-weight="normal" font-family='"Liberation Serif", serif' fill="#1c1c1c" stroke="#1c1c1c" stroke-width="0.22" letter-spacing="0.25">IFNα</text>
<text x="333.00" y="263.62" transform="rotate(0.03 333.00 263.62)" text-anchor="end" font-size="6.4" font-weight="normal" font-family='"Liberation Serif", serif' fill="#1c1c1c" stroke="#1c1c1c" stroke-width="0.12" >10µM DHA</text>
<text x="334.20" y="272.83" transform="rotate(0.03 334.20 272.83)" text-anchor="end" font-size="6.45" font-weight="normal" font-family='"Liberation Serif", serif' fill="#1c1c1c" stroke="#1c1c1c" stroke-width="0.12" >10µM Emodin</text>
<path d="M344.80 244.30H347.20" stroke="#606060" stroke-width="0.8" fill="none"/>
<path d="M354.45 243.40H357.55M356.00 241.85V244.95" stroke="#808080" stroke-width="0.55" fill="none"/>
<path d="M373.00 244.30H375.40" stroke="#606060" stroke-width="0.8" fill="none"/>
<path d="M383.85 243.40H386.95M385.40 241.85V244.95" stroke="#808080" stroke-width="0.55" fill="none"/>
<path d="M407.10 244.30H409.50" stroke="#606060" stroke-width="0.8" fill="none"/>
<path d="M416.15 243.40H419.25M417.70 241.85V244.95" stroke="#808080" stroke-width="0.55" fill="none"/>
<path d="M344.80 253.70H347.20" stroke="#606060" stroke-width="0.8" fill="none"/>
<path d="M354.45 252.80H357.55M356.00 251.25V254.35" stroke="#808080" stroke-width="0.55" fill="none"/>
<path d="M373.00 253.70H375.40" stroke="#606060" stroke-width="0.8" fill="none"/>
<path d="M383.85 252.80H386.95M385.40 251.25V254.35" stroke="#808080" stroke-width="0.55" fill="none"/>
<path d="M407.10 253.70H409.50" stroke="#606060" stroke-width="0.8" fill="none"/>
<path d="M416.15 252.80H419.25M417.70 251.25V254.35" stroke="#808080" stroke-width="0.55" fill="none"/>
<path d="M344.80 263.60H347.20" stroke="#606060" stroke-width="0.8" fill="none"/>
<path d="M354.45 262.70H357.55M356.00 261.15V264.25" stroke="#808080" stroke-width="0.55" fill="none"/>
<path d="M373.00 263.60H375.40" stroke="#606060" stroke-width="0.8" fill="none"/>
<path d="M383.85 262.70H386.95M385.40 261.15V264.25" stroke="#808080" stroke-width="0.55" fill="none"/>
<path d="M407.10 263.60H409.50" stroke="#606060" stroke-width="0.8" fill="none"/>
<path d="M416.15 262.70H419.25M417.70 261.15V264.25" stroke="#808080" stroke-width="0.55" fill="none"/>
<path d="M344.80 273.10H347.20" stroke="#606060" stroke-width="0.8" fill="none"/>
<path d="M354.45 272.20H357.55M356.00 270.65V273.75" stroke="#808080" stroke-width="0.55" fill="none"/>
<path d="M373.00 273.10H375.40" stroke="#606060" stroke-width="0.8" fill="none"/>
<path d="M383.85 272.20H386.95M385.40 270.65V273.75" stroke="#808080" stroke-width="0.55" fill="none"/>
<path d="M407.10 273.10H409.50" stroke="#606060" stroke-width="0.8" fill="none"/>
<path d="M416.15 272.20H419.25M417.70 270.65V273.75" stroke="#808080" stroke-width="0.55" fill="none"/>
</g>
</svg>
</body></html>
